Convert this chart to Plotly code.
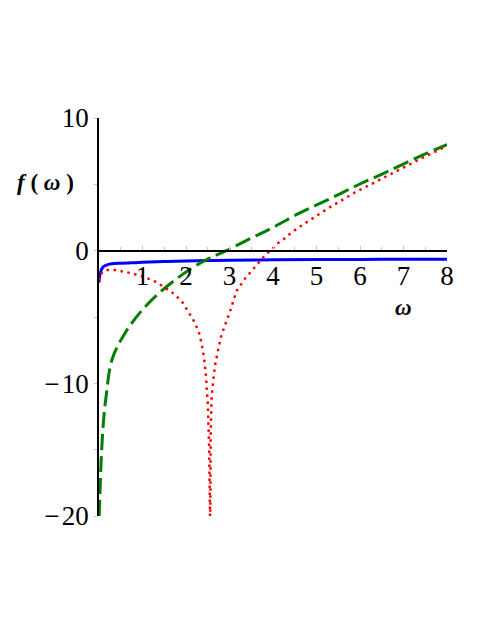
import plotly.graph_objects as go

# solid blue curve
blue_x = [0, 0.01, 0.03, 0.06, 0.1, 0.2, 0.3, 0.5, 0.75, 1.0, 1.5, 2.0, 2.5, 3.0, 4.0, 5.0, 6.0, 7.0, 8.0]
blue_y = [-2.4, -2.0, -1.7, -1.4, -1.2, -1.05, -0.98, -0.95, -0.92, -0.88, -0.82, -0.77, -0.74, -0.72, -0.69, -0.67, -0.66, -0.65, -0.64]

# dashed green curve
green_x = [0.005, 0.02, 0.05, 0.1, 0.17, 0.3, 0.6, 1.0, 1.38, 1.75, 2.14, 2.52, 2.93, 3.5, 4.0, 4.62, 5.27, 5.95, 6.57, 7.3, 8.0]
green_y = [-20, -18.5, -15.8, -13.0, -10.8, -8.2, -6.2, -4.45, -3.2, -2.2, -1.3, -0.6, 0.0, 0.95, 1.75, 2.85, 3.85, 4.95, 5.87, 7.0, 8.0]

# dotted red curve
red_x = [0, 0.03, 0.1, 0.2, 0.35, 0.55, 0.75, 1.0, 1.25, 1.5, 1.7, 1.9, 2.0, 2.1, 2.2, 2.3, 2.36, 2.42, 2.46, 2.5, 2.53, 2.553,
         2.558, 2.57, 2.59, 2.63, 2.67, 2.75, 2.82, 3.0, 3.16, 3.37, 3.59, 3.72, 3.83, 3.97, 4.12, 4.26, 4.41, 4.66,
         5.27, 5.89, 6.52, 6.84, 7.17, 7.48, 7.8, 8.0]
red_y = [-2.25, -1.8, -1.55, -1.45, -1.45, -1.55, -1.7, -1.95, -2.25, -2.75, -3.2, -3.8, -4.3, -4.8, -5.4, -6.2, -7.0, -8.2, -9.5, -11.5, -14.5, -20,
         -20, -13.5, -11.0, -9.7, -8.6, -7.3, -6.3, -4.7, -3.05, -2.05, -1.2, -0.7, -0.3, 0.08, 0.58, 0.9, 1.33, 1.9,
         3.2, 4.4, 5.48, 5.98, 6.56, 7.07, 7.57, 7.9]

x_ticks = [1, 2, 3, 4, 5, 6, 7, 8]
y_ticks = [-20, -10, 0, 10]
y_labels = ['\u2212\u200a20', '\u2212\u200a10', '0', '10']

serif = "'Liberation Serif', 'Times New Roman', serif"

fig = go.Figure()
fig.add_trace(go.Scatter(x=blue_x, y=blue_y, mode='lines', line=dict(color='#0000ff', width=3, shape='spline')))
fig.add_trace(go.Scatter(x=green_x, y=green_y, mode='lines', line=dict(color='#008000', width=3, dash='16px,6px', shape='spline')))
fig.add_trace(go.Scatter(x=red_x, y=red_y, mode='lines', line=dict(color='#ff0000', width=2.5, dash='2.5px,4.5px')))

# the page body adds 8px on the left and top, so the figure is 8px smaller
fig.update_layout(
    width=483,
    height=627,
    margin=dict(l=91, r=44, t=110, b=119),
    plot_bgcolor='white',
    paper_bgcolor='white',
    showlegend=False,
    font=dict(family=serif, color='black'),
    xaxis=dict(
        range=[0, 8],
        anchor='free',
        position=2 / 3,
        automargin=False,
        showline=True,
        linecolor='black',
        linewidth=1.5,
        showgrid=False,
        zeroline=False,
        ticks='inside',
        ticklen=4,
        tickcolor='#c8c8c8',
        tickvals=x_ticks,
        ticklabelstandoff=1,
        tickfont=dict(family=serif, size=27, color='black'),
        minor=dict(ticks='inside', ticklen=3, tickcolor='#c8c8c8', dtick=0.5, tick0=0),
    ),
    yaxis=dict(
        range=[-20, 10],
        automargin=False,
        showline=True,
        linecolor='black',
        linewidth=1.5,
        showgrid=False,
        zeroline=False,
        ticks='outside',
        ticklen=3,
        tickcolor='#c8c8c8',
        tickvals=y_ticks,
        ticktext=y_labels,
        tickfont=dict(family=serif, size=27, color='black'),
        minor=dict(ticks='outside', ticklen=3, tickcolor='#c8c8c8', dtick=5, tick0=0),
    ),
)

fig.add_annotation(text='<b><i>f</i> ( <i>\u03c9</i> )</b>', xref='paper', yref='paper', x=-0.155, y=0.839,
                   xanchor='center', yanchor='middle',
                   showarrow=False, font=dict(family=serif, size=23, color='black'))
fig.add_annotation(text='<b><i>\u03c9</i></b>', xref='paper', yref='paper', x=0.874, y=0.523,
                   xanchor='center', yanchor='middle',
                   showarrow=False, font=dict(family=serif, size=23, color='black'))

fig.write_html('out.html')
